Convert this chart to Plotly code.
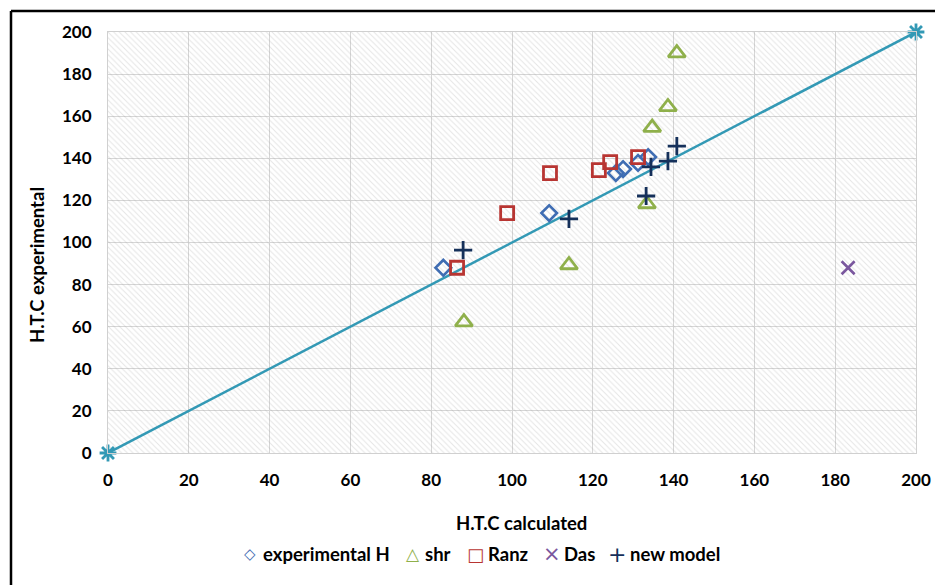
import plotly.graph_objects as go

# ---- data ----
exp_h_x = [83, 109.2, 125.7, 127.5, 131.2, 133.7]
exp_h_y = [88, 114, 133, 134.9, 137.8, 140.6]

shr_x = [88.1, 114.1, 133.4, 134.7, 138.6, 140.8]
shr_y = [62.2, 89.3, 118.3, 154.6, 164.4, 190]

ranz_x = [86.4, 98.8, 109.4, 121.5, 124.3, 131.2]
ranz_y = [88, 114, 133, 134.4, 138.2, 140.6]

das_x = [183.2]
das_y = [88]

new_x = [87.9, 114.1, 133.2, 134.4, 138.6, 140.8]
new_y = [96.4, 111.2, 122.1, 135.9, 138.7, 145.8]

line_x = [0, 200]
line_y = [0, 200]

series_names = ["experimental H", "shr", "Ranz", "Das", "new model"]
legend_glyphs = ["\u25C7", "\u25B3", "\u25A1", "\u00D7", "+"]

axis_min, axis_max, axis_step = 0, 200, 20

FONT = "Lato"
COLORS = ["#3F6DB3", "#8FB04B", "#B83532", "#7A579E", "#15305A"]
fig = go.Figure()

# hatched plot-area background
fig.add_trace(go.Bar(
    x=[(axis_min + axis_max) / 2], y=[axis_max - axis_min], base=[axis_min],
    width=[axis_max - axis_min],
    marker=dict(color="rgba(0,0,0,0)", line=dict(width=0),
                pattern=dict(shape="\\", fgcolor="rgba(150,150,150,0.5)",
                             bgcolor="rgba(0,0,0,0)", size=4, solidity=0.25)),
    hoverinfo="skip", showlegend=False))

fig.add_trace(go.Scatter(
    x=line_x, y=line_y, mode="lines+markers", showlegend=False, cliponaxis=False,
    line=dict(color="#3399B5", width=2.5),
    marker=dict(symbol="asterisk-open", size=14, color="#3399B5",
                line=dict(color="#3399B5", width=2.8))))

def pts(x, y, name, symbol, color, size, lw):
    fig.add_trace(go.Scatter(
        x=x, y=y, mode="markers", name=name, cliponaxis=False, showlegend=False,
        marker=dict(symbol=symbol, size=size, color=color,
                    line=dict(color=color, width=lw))))

pts(exp_h_x, exp_h_y, series_names[0], "diamond-open", COLORS[0], 12, 2.6)
pts(shr_x, shr_y, series_names[1], "triangle-up-open", COLORS[1], 15, 2.8)
pts(ranz_x, ranz_y, series_names[2], "square-open", COLORS[2], 13, 2.8)
pts(das_x, das_y, series_names[3], "x-thin-open", COLORS[3], 13, 2.6)
pts(new_x, new_y, series_names[4], "cross-thin-open", COLORS[4], 13, 2.8)

axis_common = dict(
    range=[axis_min, axis_max], dtick=axis_step, tick0=0,
    showgrid=True, gridcolor="#D6D6D6", gridwidth=1,
    showline=True, linecolor="#D0D0D0", linewidth=1, mirror=True,
    zeroline=False, ticks="", ticklabelstandoff=12,
    tickfont=dict(family=FONT, size=17, color="#000000", weight="bold"),
)

# page offset of 8px (body margin) is compensated in size / margins
OFF = 8
W, H = 943 - OFF, 585 - OFF

def px_x(p):
    return (p - 108) / 808

def px_y(p):
    return (453 - p) / 421

annotations = [
    dict(text="H.T.C calculated", xref="paper", yref="paper",
         x=px_x(521), y=px_y(523), showarrow=False,
         xanchor="center", yanchor="middle",
         font=dict(family=FONT, size=18.5, color="#000000", weight="bold")),
    dict(text="H.T.C experimental", xref="paper", yref="paper",
         x=px_x(37), y=px_y(265), showarrow=False, textangle=-90,
         xanchor="center", yanchor="middle",
         font=dict(family=FONT, size=18.5, color="#000000", weight="bold")),
]

# legend row (symbol glyph + label), positioned like the reference
sym_px = [250, 413, 475, 552, 617]
txt_px = [261, 423, 486, 562, 628]
glyph_sizes = [15, 17, 18, 21, 22]
for name, glyph, col, sx, tx, gs in zip(series_names, legend_glyphs, COLORS,
                                       sym_px, txt_px, glyph_sizes):
    annotations.append(dict(text=glyph, xref="paper", yref="paper",
                            x=px_x(sx), y=px_y(554), showarrow=False,
                            xanchor="center", yanchor="middle",
                            font=dict(family="DejaVu Sans", size=gs, color=col)))
    annotations.append(dict(text=name, xref="paper", yref="paper",
                            x=px_x(tx), y=px_y(554), showarrow=False,
                            xanchor="left", yanchor="middle",
                            font=dict(family=FONT, size=18.5, color="#000000",
                                      weight="bold")))

fig.update_layout(
    width=W, height=H,
    margin=dict(l=108 - OFF, r=27, t=32 - OFF, b=132),
    paper_bgcolor="white", plot_bgcolor="white",
    barmode="overlay",
    xaxis=axis_common, yaxis=axis_common,
    showlegend=False,
    annotations=annotations,
    shapes=[
        dict(type="line", xref="paper", yref="paper",
             x0=px_x(11), x1=px_x(950), y0=px_y(11), y1=px_y(11),
             line=dict(color="#000000", width=2.5)),
        dict(type="line", xref="paper", yref="paper",
             x0=px_x(11), x1=px_x(11), y0=px_y(11), y1=px_y(600),
             line=dict(color="#000000", width=2.5)),
    ],
)

fig.write_html("out.html")
